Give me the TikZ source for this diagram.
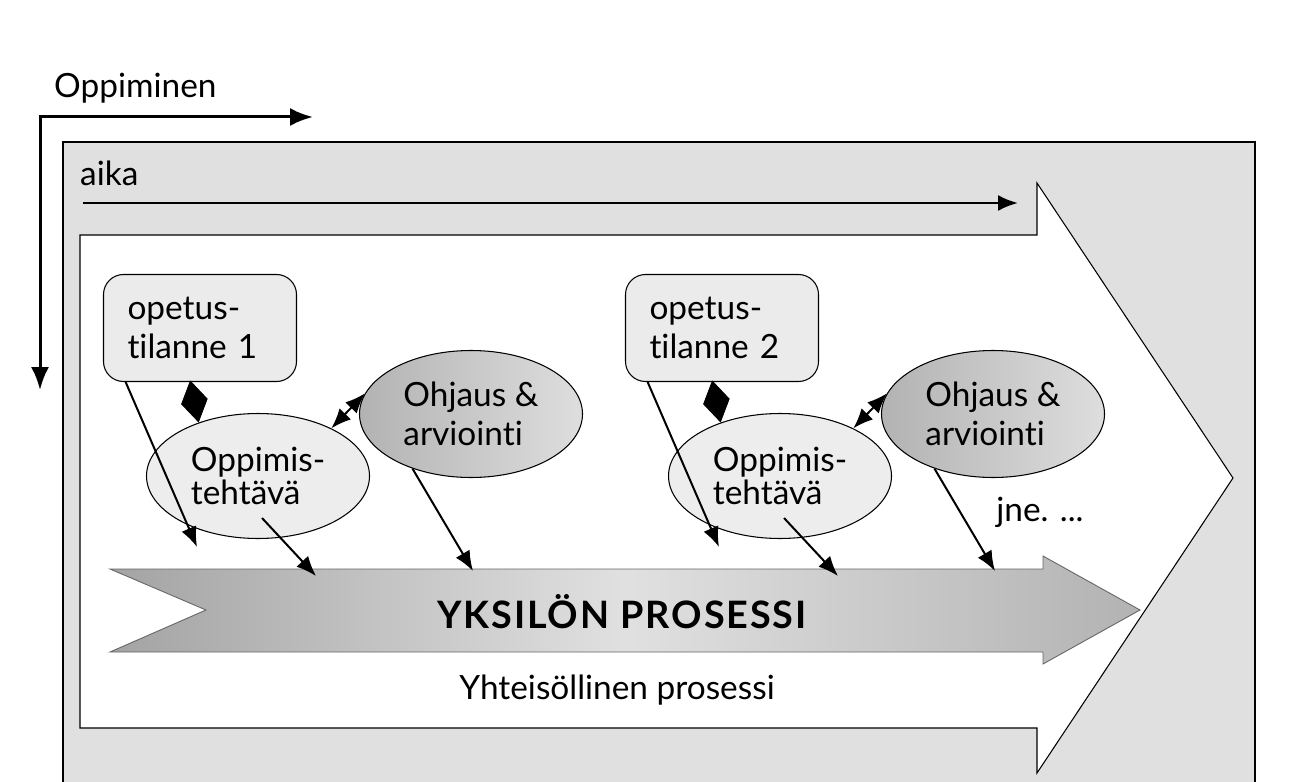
\documentclass[tikz,border=0pt]{standalone}
\usepackage{fontspec}
\setmainfont{Lato}[Ligatures=NoCommon]
\usetikzlibrary{shapes.geometric,arrows.meta}
\usepackage{xcolor}
\tikzset{
    teksti/.style={font=\fontsize{19}{22}\selectfont},
    tilanne/.style={draw,line width=0.6pt,rounded corners=4mm,fill=black!8,
        minimum width=38.6mm,minimum height=21.4mm,text width=29mm,align=left,teksti},
    tehtava/.style={draw,line width=0.6pt,ellipse,fill=black!7,inner sep=0pt,
        minimum width=44.6mm,minimum height=25mm,align=left,
        font=\fontsize{19}{19}\selectfont},
    ohjaus/.style={draw,line width=0.6pt,ellipse,left color=black!30,right color=black!13,
        inner sep=0pt,minimum width=44.6mm,minimum height=25.4mm,align=left,teksti},
    nuoli/.style={-{Latex[length=4mm,width=3.2mm]},line width=0.4mm},
    kaksinuoli/.style={{Latex[length=4mm,width=3.2mm]}-{Latex[length=4mm,width=3.2mm]},line width=0.4mm},
    salmiakki/.style={-{Diamond[length=8.6mm,width=5.4mm]},fill=black,line width=0.4pt}
}
\newcommand{\jakso}[3] {
    \node[tilanne] (tilanne#1) at (#2+200, 328) {opetus-\\tilanne #3};
    \node[tehtava] (tehtava#1) at (#2+258, 476) {Oppimis-\\teht\"av\"a};
    \node[ohjaus]  (ohjaus#1)  at (#2+471, 414) {Ohjaus \&\\arviointi};
    \coordinate (alku#1)   at (#2+262, 518);
    \coordinate (loppuA#1) at (#2+197, 547);
    \coordinate (loppuB#1) at (#2+316, 576);
    \coordinate (loppuC#1) at (#2+473, 571);
    \draw[salmiakki]  (tilanne#1.-100) -- (tehtava#1.138);
    \draw[kaksinuoli] (tehtava#1.33) -- (ohjaus#1.169);
    \draw[nuoli] (tilanne#1.216) -- (loppuA#1);
    \draw[nuoli] (alku#1) -- (loppuB#1);
    \draw[nuoli] (ohjaus#1.223) -- (loppuC#1);
}

\begin{document}
\begin{tikzpicture}[x=0.2mm,y=-0.2mm]
        \useasboundingbox[fill=white] (0,0) rectangle (1289,782);
        % tausta ja iso nuoli
        \fill[black!12] (63,142) rectangle (1255,782);
        \draw[line width=0.6pt] (63,782) -- (63,142) -- (1255,142) -- (1255,782);
        \draw[fill=white,line width=0.6pt] (80,235) -- (1037,235) -- (1037,183) -- (1233,478)
            -- (1037,773) -- (1037,728) -- (80,728) -- cycle;

        % oppiminen ja aika
        \node[teksti,anchor=west] (oppiminen) at (48,88) {Oppiminen};
        \coordinate (origo) at (40,117);
        \coordinate (oppX)  at (313,117);
        \coordinate (oppY)  at (40,390);
        \draw[{Latex[length=4.6mm,width=3.6mm]}-{Latex[length=4.6mm,width=3.6mm]},line width=0.6mm]
            (oppX) -- (origo) -- (oppY);
        \node[teksti,anchor=west] (aika) at (74,173) {aika};
        \coordinate (aikaA) at (83,203);
        \coordinate (aikaB) at (1018,203);
        \draw[-{Latex[length=4mm,width=3.2mm]},line width=0.5mm] (aikaA) -- (aikaB);

        % yksilon prosessi
        \draw[line width=0.5pt,draw=black!60,left color=black!36,right color=black!30,middle color=black!12]
            (110,569) -- (1043,569) -- (1043,556) -- (1140,610) -- (1043,664)
            -- (1043,652) -- (110,652) -- (206,610) -- cycle;
        \node[font=\fontsize{21.5}{24}\selectfont\bfseries\addfontfeatures{LetterSpace=5}] (yksilo)
            at (622,612) {YKSIL\"ON PROSESSI};
        \node[teksti] (yhteiso) at (617,690) {Yhteis\"ollinen prosessi};

        \jakso{1}{0}{1}
        \jakso{2}{522}{2}
        \node[teksti] (jne) at (1040,512) {jne. ...};
    \end{tikzpicture}
\end{document}
